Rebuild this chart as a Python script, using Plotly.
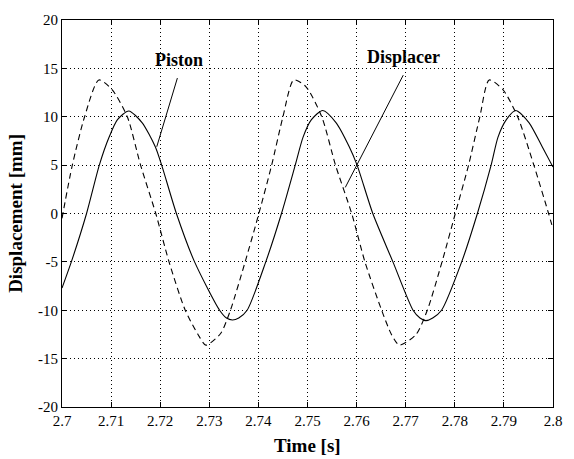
import plotly.graph_objects as go

# Piston (solid)
piston_t = [2.7000, 2.7019, 2.7050, 2.7076, 2.7096, 2.7113, 2.7136, 2.7163, 2.7190, 2.7203, 2.7233,
            2.7270, 2.7321, 2.7335, 2.7347, 2.7360, 2.7377, 2.7415, 2.7447, 2.7475,
            2.7491, 2.7508, 2.7531, 2.7558, 2.7585, 2.7601, 2.7633, 2.7674, 2.7715, 2.7729, 2.7741,
            2.7755, 2.7773, 2.7814, 2.7846, 2.7874, 2.7888, 2.7905, 2.7924, 2.7951, 2.7978, 2.8000]
piston_mm = [-7.7, -5.0, 0.0, 5.0, 7.9, 9.7, 10.6, 9.4, 6.9, 5.0, 0.0,
             -5.0, -10.0, -10.8, -11.0, -10.8, -10.0, -5.0, 0.0, 5.0,
             7.9, 9.7, 10.65, 9.4, 6.9, 5.0, 0.0, -5.0, -10.0, -10.8, -11.07,
             -10.8, -10.0, -5.0, 0.0, 5.0, 7.9, 9.7, 10.65, 9.4, 6.9, 4.8]

# Displacer (dashed)
displacer_t = [2.7000, 2.7021, 2.7046, 2.7075, 2.7102, 2.7133, 2.7160, 2.7191, 2.7218,
               2.7251, 2.7277, 2.7293, 2.7323, 2.7343, 2.7373, 2.7401, 2.7427, 2.7450,
               2.7472, 2.7497, 2.7529, 2.7557, 2.7590, 2.7617, 2.7651, 2.7671, 2.7687,
               2.7721, 2.7744, 2.7774, 2.7801, 2.7828, 2.7851, 2.7870, 2.7898, 2.7928,
               2.7961, 2.7991, 2.8000]
displacer_mm = [-0.5, 5.0, 10.0, 13.8, 12.8, 10.0, 5.0, 0.0, -5.0,
                -10.0, -12.5, -13.6, -12.4, -10.0, -5.0, 0.0, 5.0, 10.0,
                13.8, 13.1, 10.0, 5.0, 0.0, -5.0, -10.0, -12.5, -13.6,
                -12.5, -10.0, -5.0, 0.0, 5.0, 10.0, 13.8, 12.8, 10.0,
                5.0, 0.0, -1.6]

x_ticks = [2.70, 2.71, 2.72, 2.73, 2.74, 2.75, 2.76, 2.77, 2.78, 2.79, 2.80]
x_tick_text = ["2.7", "2.71", "2.72", "2.73", "2.74", "2.75", "2.76", "2.77", "2.78", "2.79", "2.8"]
y_ticks = [-20, -15, -10, -5, 0, 5, 10, 15, 20]
y_tick_text = ["-20", "-15", "-10", "-5", "0", "5", "10", "15", "20"]

# annotation pointer lines: (label, label_x, label_y, line start, line end)
labels = ["Piston", "Displacer"]
label_x = [2.72375, 2.76954]
label_y = [15.9, 16.2]
ptr_x0 = [2.7235, 2.7695]
ptr_y0 = [14.0, 14.3]
ptr_x1 = [2.7193, 2.7577]
ptr_y1 = [6.9, 2.7]

FONT = "Liberation Serif"

fig = go.Figure()
fig.add_trace(go.Scatter(x=piston_t, y=piston_mm, mode="lines",
                         line=dict(color="black", width=1.1, shape="spline", smoothing=0.7),
                         showlegend=False))
fig.add_trace(go.Scatter(x=displacer_t, y=displacer_mm, mode="lines",
                         line=dict(color="black", width=1.1, dash="6px,4px", shape="spline", smoothing=0.7),
                         showlegend=False))

for i in range(len(labels)):
    fig.add_shape(type="line", xref="x", yref="y", x0=ptr_x0[i], y0=ptr_y0[i],
                  x1=ptr_x1[i], y1=ptr_y1[i], line=dict(color="black", width=1))
    fig.add_annotation(x=label_x[i], y=label_y[i], xref="x", yref="y", text="<b>" + labels[i] + "</b>",
                       showarrow=False, font=dict(family=FONT, size=18, color="black"))

fig.add_annotation(x=0.5, y=-0.068, xref="paper", yref="paper", text="<b>Time [s]</b>",
                   showarrow=False, yanchor="top", font=dict(family=FONT, size=19, color="black"))
fig.add_annotation(x=-0.095, y=0.5, xref="paper", yref="paper", text="<b>Displacement [mm]</b>",
                   showarrow=False, textangle=-90, xanchor="center",
                   font=dict(family=FONT, size=19, color="black"))

axis_common = dict(showline=True, linecolor="black", linewidth=1, mirror="ticks",
                   ticks="inside", ticklen=5, tickcolor="black",
                   showgrid=True, gridcolor="black", gridwidth=1, griddash="1px,3px",
                   zeroline=False, tickfont=dict(family=FONT, size=15, color="black"))

fig.update_xaxes(range=[2.7, 2.8], tickvals=x_ticks, ticktext=x_tick_text, **axis_common)
fig.update_yaxes(range=[-20, 20], tickvals=y_ticks, ticktext=y_tick_text, **axis_common)

fig.update_layout(width=574, height=459, margin=dict(l=62, r=12, t=14, b=52),
                  paper_bgcolor="white", plot_bgcolor="white", showlegend=False)

fig.write_html("out.html")
